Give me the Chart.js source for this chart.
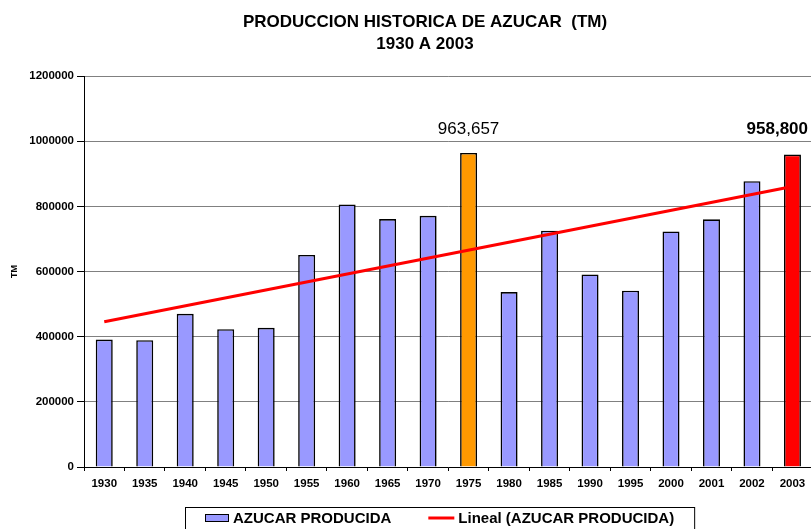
<!DOCTYPE html>
<html>
<head>
<meta charset="utf-8">
<script src="https://cdn.jsdelivr.net/npm/chart.js@4.4.1/dist/chart.umd.min.js"></script>
<style>
  html, body { margin: 0; padding: 0; background: #fff; overflow: hidden; }
  #wrap { width: 811px; height: 529px; overflow: hidden; }
</style>
</head>
<body>
<div id="wrap">
  <canvas id="myChart" width="850" height="529"></canvas>
</div>
<script>
// Chart data
var categories = ['1930', '1935', '1940', '1945', '1950', '1955', '1960', '1965', '1970',
                  '1975', '1980', '1985', '1990', '1995', '2000', '2001', '2002', '2003'];
var produccion = [391000, 389000, 470000, 423000, 427000, 651000, 806000, 761000, 771000,
                  963657, 537000, 725000, 591000, 541000, 723000, 760000, 877000, 958800];
// trend line: only its two ends, the library joins them
var tendencia = [446000, null, null, null, null, null, null, null, null,
                 null, null, null, null, null, null, null, null, 861000];
var yMax = 1200000;
var yStep = 200000;

// bars picked out with their own colour and value label
var highlightYears = ['1975', '2003'];
var highlightColors = ['#FF9900', '#FF0000'];
var labelText = ['963,657', '958,800'];
var labelBold = [false, true];

var FONT = "'Liberation Sans', Arial, Helvetica, sans-serif";
var VISIBLE_W = 811;

Chart.defaults.font.family = FONT;
Chart.defaults.color = '#000';

var barColors = categories.map(function (c) {
    var i = highlightYears.indexOf(c);
    return i >= 0 ? highlightColors[i] : '#9999FF';
});

// Value labels over the highlighted bars
var valueLabels = {
    id: 'valueLabels',
    afterDatasetsDraw: function (chart) {
        var ctx = chart.ctx;
        var meta = chart.getDatasetMeta(0);
        var idx = highlightYears.map(function (y) { return categories.indexOf(y); });
        var top = Math.min.apply(null, idx.map(function (i) { return meta.data[i].y; })) - 24;
        ctx.save();
        ctx.fillStyle = '#000';
        ctx.textAlign = 'center';
        ctx.textBaseline = 'middle';
        idx.forEach(function (i, k) {
            ctx.font = (labelBold[k] ? 'bold ' : '') + '17px ' + FONT;
            var w = ctx.measureText(labelText[k]).width;
            // keep the label inside the visible picture
            var x = Math.min(meta.data[i].x, VISIBLE_W - 3 - w / 2);
            ctx.fillText(labelText[k], x, top);
        });
        ctx.restore();
    }
};

// Boxed legend under the axis, like the spreadsheet one
var boxLegend = {
    id: 'boxLegend',
    afterDraw: function (chart) {
        var ctx = chart.ctx;
        var ds = chart.data.datasets;
        var top = chart.chartArea.bottom + 40;
        var left = 185;
        var cy = top + 11;
        ctx.save();
        ctx.font = 'bold 15px ' + FONT;
        ctx.textBaseline = 'middle';
        ctx.textAlign = 'left';

        var x = left + 20;
        ctx.fillStyle = '#9999FF';
        ctx.fillRect(x, cy - 4, 24, 8);
        ctx.strokeStyle = '#000';
        ctx.lineWidth = 1;
        ctx.strokeRect(x + 0.5, cy - 3.5, 23, 7);
        x += 28;
        ctx.fillStyle = '#000';
        ctx.fillText(ds[0].label, x, cy + 1);
        x += ctx.measureText(ds[0].label).width + 37;

        ctx.strokeStyle = ds[1].borderColor;
        ctx.lineWidth = 3;
        ctx.beginPath();
        ctx.moveTo(x, cy);
        ctx.lineTo(x + 26, cy);
        ctx.stroke();
        x += 30;
        ctx.fillText(ds[1].label, x, cy + 1);
        x += ctx.measureText(ds[1].label).width + 20;

        ctx.strokeStyle = '#000';
        ctx.lineWidth = 1;
        ctx.strokeRect(left + 0.5, top + 0.5, x - left, 60);
        ctx.restore();
    }
};

var ctx = document.getElementById('myChart').getContext('2d');

var myChart = new Chart(ctx, {
    type: 'bar',
    data: {
        labels: categories,
        datasets: [{
            type: 'bar',
            label: 'AZUCAR PRODUCIDA',
            data: produccion,
            backgroundColor: barColors,
            borderColor: '#000',
            borderWidth: 1.6,
            borderSkipped: 'bottom',
            categoryPercentage: 1,
            barPercentage: 0.42,
            order: 1
        }, {
            type: 'line',
            label: 'Lineal (AZUCAR PRODUCIDA)',
            data: tendencia,
            borderColor: '#FF0000',
            backgroundColor: '#FF0000',
            borderWidth: 3,
            pointRadius: 0,
            spanGaps: true,
            fill: false,
            order: 0
        }]
    },
    options: {
        responsive: false,
        animation: false,
        layout: { padding: 0 },
        plugins: {
            legend: { display: false },
            tooltip: { enabled: false },
            title: {
                display: true,
                text: ['PRODUCCION HISTORICA DE AZUCAR  (TM)', '1930 A 2003'],
                font: { size: 17, weight: 'bold', lineHeight: '22px' },
                color: '#000',
                padding: { top: 11, bottom: 21 }
            }
        },
        scales: {
            x: {
                grid: {
                    offset: true,
                    drawOnChartArea: false,
                    drawTicks: true,
                    tickLength: 4,
                    color: '#000'
                },
                border: { color: '#000', width: 1 },
                ticks: {
                    autoSkip: false,
                    maxRotation: 0,
                    padding: 6,
                    font: { size: 11.5, weight: 'bold' }
                },
                afterFit: function (scale) { scale.height = 62; }
            },
            y: {
                min: 0,
                max: yMax,
                ticks: {
                    stepSize: yStep,
                    padding: 3,
                    font: { size: 11.5, weight: 'bold' },
                    callback: function (v) { return String(v); }
                },
                grid: {
                    color: '#808080',
                    tickColor: '#000',
                    tickLength: 7
                },
                border: { color: '#000', width: 1 },
                title: {
                    display: true,
                    text: 'TM',
                    font: { size: 9, weight: 'bold' },
                    padding: { top: 9.5, bottom: 0 }
                },
                afterFit: function (scale) { scale.width = 84; }
            },
            // empty right-hand strip: the plot runs just past the picture edge
            yRight: {
                position: 'right',
                display: true,
                grid: { display: false },
                border: { display: false },
                ticks: { display: false },
                afterFit: function (scale) { scale.width = 37.3; }
            }
        }
    },
    plugins: [valueLabels, boxLegend]
});
</script>
</body>
</html>
